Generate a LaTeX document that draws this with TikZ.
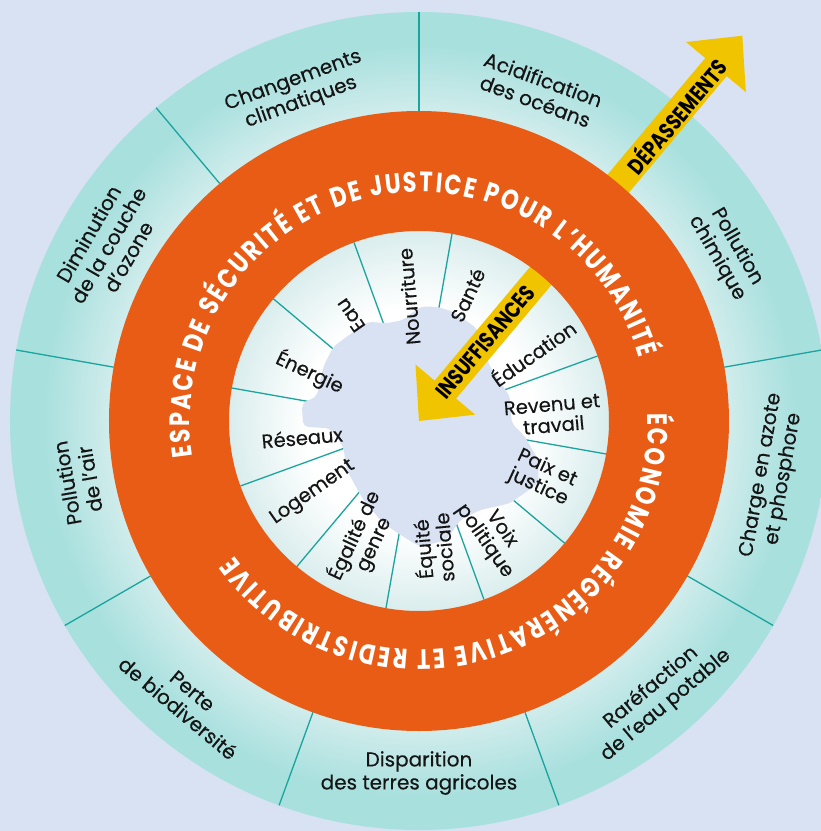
\documentclass[tikz,border=0pt]{standalone}
\usepackage{fontspec}
\setmainfont{Poppins}
\newfontfamily\ringfont[FakeStretch=0.8]{Poppins}
\newfontfamily\labelfont[FakeBold=0.35]{Poppins}
\usetikzlibrary{decorations.text}

\definecolor{bgblue}{HTML}{D9E2F2}
\definecolor{ringteal}{HTML}{A8E0DE}
\definecolor{tealpale}{HTML}{CFECEB}
\definecolor{lineteal}{HTML}{1BA39E}
\definecolor{donutorange}{HTML}{E85C15}
\definecolor{arrowyellow}{HTML}{F1C400}
\definecolor{innerpale}{HTML}{DAEDED}
\definecolor{labelblack}{HTML}{151515}

\pgfdeclareradialshading{outerring}{\pgfpoint{0bp}{0bp}}{color(0bp)=(white); color(19bp)=(tealpale); color(23bp)=(ringteal); color(50bp)=(ringteal)}
\pgfdeclareradialshading{innerring}{\pgfpoint{0bp}{0bp}}{color(0bp)=(white); color(15bp)=(white); color(25bp)=(innerpale); color(50bp)=(innerpale)}

\newcommand\ringtext{\ringfont\bfseries\fontsize{28}{28}\selectfont}

\begin{document}
\begin{tikzpicture}[
  outerlabel/.style = {align=center, text=labelblack, inner sep=0pt,
                       font=\labelfont\fontsize{20}{23}\selectfont},
  innerlabel/.style = {align=center, text=labelblack, inner sep=0pt,
                       font=\labelfont\fontsize{19.5}{21}\selectfont},
  arrowlabel/.style = {text=black, inner sep=0pt,
                       font=\ringfont\bfseries\fontsize{22.5}{22.5}\selectfont},
  divline/.style = {draw=lineteal, line width=1.3pt},
  ringlabel/.style = {decorate, decoration={text along path, text color=white,
                       text align={fit to path}}},
]
\useasboundingbox (-419pt,-410pt) rectangle (402pt,421pt);
\clip (-419pt,-410pt) rectangle (402pt,421pt);
\fill[bgblue] (-419pt,-410pt) rectangle (402pt,421pt);

%--- planetary boundaries
\shade[shading=outerring] (0,0) circle[radius=409pt];
\foreach \a in {90,130,...,410}
  \draw[divline] (\a:310pt) -- (\a:409pt);

\begin{scope}[rotate=50]
\fill[arrowyellow] (290pt,-14pt) -- (462pt,-14pt) -- (462pt,-39pt) -- (503pt,0pt)
  -- (462pt,39pt) -- (462pt,14pt) -- (290pt,14pt) -- cycle;
\node[arrowlabel, rotate=50] (over) at (399pt,0pt) {DÉPASSEMENTS};
\end{scope}

%--- social foundation
\shade[shading=innerring] (0,0) circle[radius=190pt];
\foreach \a in {80,110,...,410}
  \draw[divline] (\a:60pt) -- (\a:190pt);

\fill[bgblue, rounded corners=5pt] (-50.7pt,99.3pt) -- (-32.3pt,97.7pt) -- (-15.7pt,101pt)
  -- (1pt,114.3pt) -- (17.7pt,114.3pt) -- (34.3pt,109.3pt) -- (57.7pt,92.7pt)
  -- (71pt,54.3pt) -- (84.3pt,34.3pt) -- (91pt,24.3pt) -- (92.7pt,-2.3pt)
  -- (106pt,-15.7pt) -- (119.3pt,-39pt) -- (119.3pt,-62.3pt) -- (91pt,-82.3pt)
  -- (61pt,-89pt) -- (41pt,-99pt) -- (27.7pt,-119pt) -- (1pt,-125.7pt)
  -- (-15.7pt,-115.7pt) -- (-35.7pt,-102.3pt) -- (-55.7pt,-79pt) -- (-72.3pt,-49pt)
  -- (-75.7pt,-25.7pt) -- (-89pt,-7.3pt) -- (-115.7pt,-5.7pt) -- (-117.3pt,17.7pt)
  -- (-102.3pt,24.3pt) -- (-95.7pt,54.3pt) -- (-85.7pt,74.3pt) -- (-72.3pt,84.3pt) -- cycle;

\begin{scope}[rotate=50]
\fill[arrowyellow] (0pt,0pt) -- (41pt,39pt) -- (41pt,14pt) -- (200pt,14pt)
  -- (200pt,-14pt) -- (41pt,-14pt) -- (41pt,-39pt) -- cycle;
\node[arrowlabel, rotate=50] (short) at (103pt,0pt) {INSUFFISANCES};
\end{scope}

%--- doughnut
\fill[donutorange, even odd rule] (0,0) circle[radius=310pt] (0,0) circle[radius=190pt];
\path[ringlabel, decoration={text={|\ringtext|ESPACE DE SÉCURITÉ ET DE JUSTICE POUR L’HUMANITÉ}}]
  (189:229pt) arc[start angle=189, end angle=16, radius=229pt];
\path[ringlabel, decoration={text={|\ringtext|ÉCONOMIE RÉGÉNÉRATIVE ET REDISTRIBUTIVE}}]
  (2:229pt) arc[start angle=2, end angle=-144, radius=229pt];

%--- labels
\foreach \ang/\rad/\rot/\txt [count=\i] in {
    110.3/351/20/{Changements\\climatiques},
    70/352/-20/{Acidification\\des océans},
    28.7/351/-60/{Pollution\\chimique},
    -9/358/80/{Charge en azote\\et phosphore},
    -49/365/40/{Raréfaction\\de l’eau potable},
    -90/352/0/{Disparition\\des terres agricoles},
    -130/364/-40/{Perte\\de biodiversité},
    190/346/100/{Pollution\\de l’air},
    150.5/357/60/{Diminution\\de la couche\\d’ozone}}
  \node[outerlabel, rotate=\rot] (outer\i) at (\ang:\rad pt) {\txt};

\foreach \ang/\rad/\rot/\txt [count=\i] in {
    94.6/125/95/{Nourriture},
    69/135/65/{Santé},
    31/133/35/{Éducation},
    2.6/134/5/{Revenu et\\travail},
    -24.7/136/-25/{Paix et\\justice},
    -57/136/-55/{Voix\\politique},
    -84/128/95/{Équité\\sociale},
    245/131/65/{Égalité de\\genre},
    214/128/35/{Logement},
    188/118/5/{Réseaux},
    156/119.5/-25/{Énergie},
    123/126/125/{Eau}}
  \node[innerlabel, rotate=\rot] (inner\i) at (\ang:\rad pt) {\txt};
\end{tikzpicture}
\end{document}
